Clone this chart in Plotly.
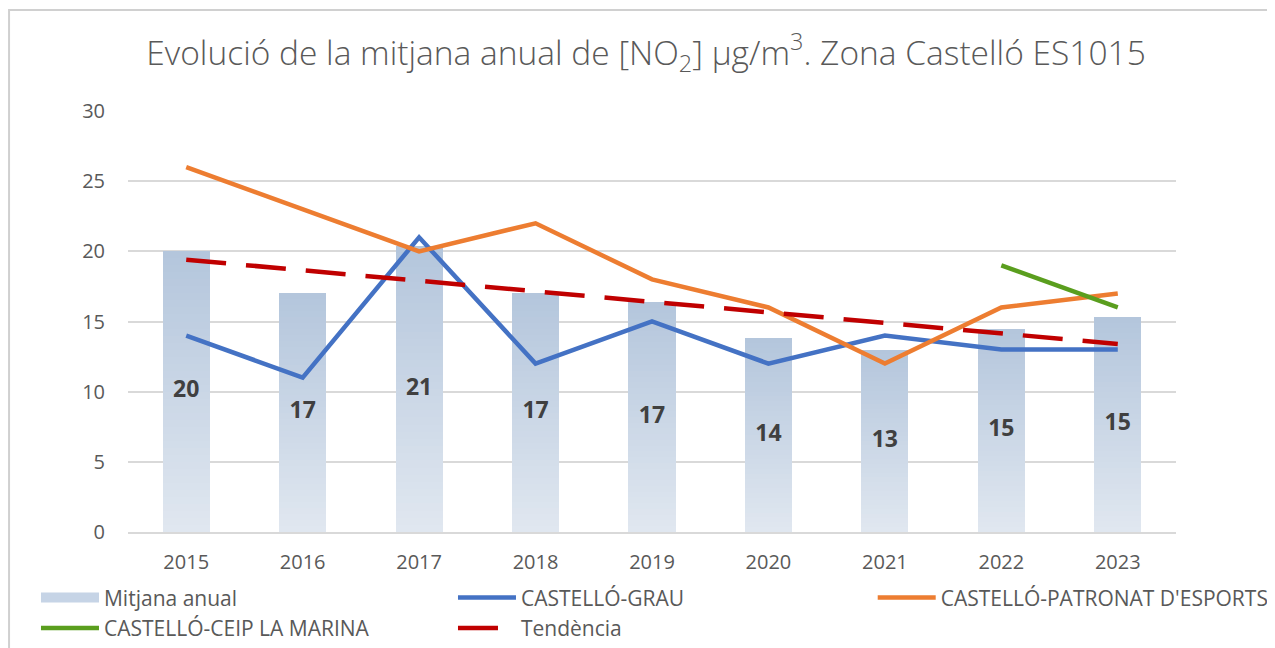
import plotly.graph_objects as go

years = ["2015", "2016", "2017", "2018", "2019", "2020", "2021", "2022", "2023"]
mitjana = [20, 17, 20.4, 17, 16.4, 13.8, 13.0, 14.5, 15.3]
mitjana_labels = ["20", "17", "21", "17", "17", "14", "13", "15", "15"]
grau = [14, 11, 21, 12, 15, 12, 14, 13, 13]
patronat = [26, 23, 20, 22, 18, 16, 12, 16, 17]
ceip_years = ["2022", "2023"]
ceip = [19, 16]
trend_years = ["2015", "2023"]
trend = [19.4, 13.4]

fig = go.Figure()

# gradient bars via stacked slices
N = 40
top_rgb = (180, 198, 220)
bot_rgb = (224, 231, 240)
for i in range(N):
    t = i / (N - 1)
    c = tuple(round(bot_rgb[k] + (top_rgb[k] - bot_rgb[k]) * t) for k in range(3))
    fig.add_trace(go.Bar(
        x=years, y=[v / N for v in mitjana],
        marker=dict(color="rgb(%d,%d,%d)" % c, line=dict(width=0)),
        width=0.405, showlegend=False, hoverinfo="skip",
    ))

LEG_FONT = dict(size=21, color="#595959", family="Open Sans")

# legend entry for bars (wide swatch)
fig.add_trace(go.Scatter(x=[None], y=[None], name="Mitjana anual", legend="legend", mode="lines",
                         line=dict(color="rgb(198,212,230)", width=15)))

fig.add_trace(go.Scatter(
    x=years, y=[v / 2 for v in mitjana], text=mitjana_labels, mode="text",
    textfont=dict(size=23, color="#404040", family="Open Sans", weight="bold"),
    showlegend=False, hoverinfo="skip"))

fig.add_trace(go.Scatter(x=years, y=grau, name="CASTELLÓ-GRAU", mode="lines", legend="legend2",
                         line=dict(color="#4472c4", width=4.5)))
fig.add_trace(go.Scatter(x=years, y=patronat, name="CASTELLÓ-PATRONAT D'ESPORTS", mode="lines",
                         legend="legend3", line=dict(color="#ed7d31", width=4.5)))
fig.add_trace(go.Scatter(x=ceip_years, y=ceip, name="CASTELLÓ-CEIP LA MARINA", mode="lines",
                         legend="legend", line=dict(color="#5a9e1e", width=4.5)))
fig.add_trace(go.Scatter(x=trend_years, y=trend, name="Tendència", mode="lines", legend="legend2",
                         line=dict(color="#c00000", width=4.5, dash="40px,20px")))

leg_common = dict(orientation="v", yanchor="top", y=-0.108, xanchor="left",
                  itemwidth=58, font=LEG_FONT, traceorder="normal",
                  bgcolor="rgba(0,0,0,0)", tracegroupgap=0)

fig.update_layout(
    width=1267, height=640,
    barmode="stack", bargap=0.595,
    paper_bgcolor="white", plot_bgcolor="white",
    margin=dict(l=120, r=99, t=103, b=116, autoexpand=False),
    font=dict(family="Open Sans", color="#595959", size=20),
    title=dict(text="Evolució de la mitjana anual de [NO<sub>2</sub>] µg/m<sup>3</sup>. Zona Castelló ES1015",
               x=0.5036, xanchor="center", y=0.93, yanchor="middle",
               font=dict(size=33.5, color="#595959", family="Open Sans", weight=300)),
    xaxis=dict(type="category", showgrid=False, showline=True, linecolor="#d9d9d9", linewidth=1.5,
               ticks="", ticklabelstandoff=11, tickfont=dict(size=20, color="#595959")),
    yaxis=dict(range=[0, 30], dtick=5, showgrid=True, gridcolor="#d9d9d9", gridwidth=1.5,
               zeroline=False, showline=False, ticks="", ticklabelstandoff=22,
               tickfont=dict(size=20, color="#595959")),
    legend=dict(x=-0.0878, **leg_common),
    legend2=dict(x=0.3101, **leg_common),
    legend3=dict(x=0.7106, **leg_common),
    shapes=[dict(type="rect", xref="paper", yref="paper", x0=-0.1135, x1=1.3, y0=-0.6, y1=1.24,
                 line=dict(color="#d0d0d0", width=2))],
)

fig.write_html("out.html")
